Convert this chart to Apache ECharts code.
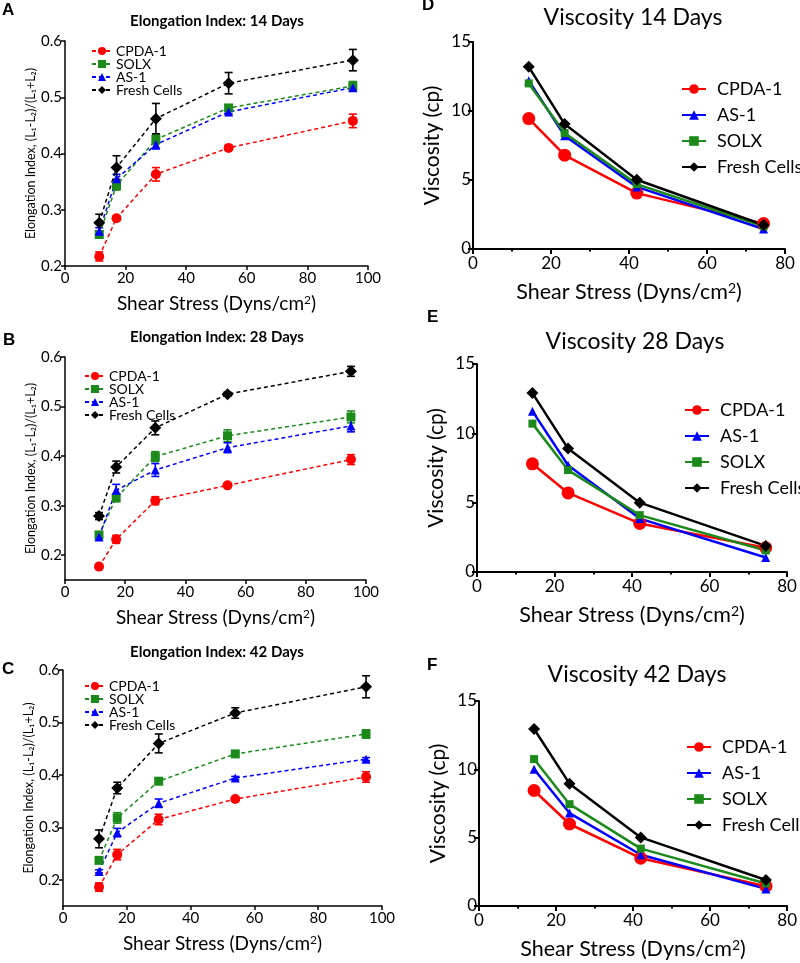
<!DOCTYPE html>
<html><head><meta charset="utf-8">
<script src="https://cdn.jsdelivr.net/npm/echarts@6/dist/echarts.min.js"></script>
<style>html,body{margin:0;padding:0;background:#fff}#c{width:800px;height:963px}</style>
</head><body><div id="c"></div>
<script>
// ---------- data ----------
const xEI = [11.3, 17, 30, 54, 95];
const xVis = [14.3, 23.5, 42, 74.5];
const seriesNamesEI = ['CPDA-1', 'SOLX', 'AS-1', 'Fresh Cells'];
const seriesNamesVis = ['CPDA-1', 'AS-1', 'SOLX', 'Fresh Cells'];

// Panel A (14 days)
const cpdaA = [0.217, 0.285, 0.363, 0.410, 0.458];
const cpdaAErr = [0.008, 0.004, 0.012, 0.004, 0.012];
const solxA = [0.256, 0.343, 0.425, 0.481, 0.520];
const solxAErr = [0.005, 0.008, 0.008, 0.004, 0.008];
const as1A = [0.262, 0.355, 0.416, 0.474, 0.517];
const as1AErr = [0.006, 0.008, 0.008, 0.004, 0.006];
const freshA = [0.277, 0.375, 0.462, 0.525, 0.566];
const freshAErr = [0.015, 0.021, 0.027, 0.019, 0.019];

// Panel B (28 days)
const cpdaB = [0.177, 0.232, 0.310, 0.341, 0.393];
const cpdaBErr = [0.003, 0.008, 0.008, 0.003, 0.010];
const solxB = [0.241, 0.316, 0.399, 0.441, 0.479];
const solxBErr = [0.005, 0.008, 0.010, 0.012, 0.012];
const as1B = [0.237, 0.331, 0.372, 0.417, 0.461];
const as1BErr = [0.004, 0.012, 0.013, 0.010, 0.012];
const freshB = [0.279, 0.378, 0.457, 0.525, 0.571];
const freshBErr = [0.007, 0.012, 0.014, 0.004, 0.010];

// Panel C (42 days)
const cpdaC = [0.186, 0.248, 0.315, 0.354, 0.396];
const cpdaCErr = [0.008, 0.010, 0.010, 0.003, 0.010];
const solxC = [0.237, 0.318, 0.388, 0.440, 0.478];
const solxCErr = [0.004, 0.010, 0.006, 0.004, 0.008];
const as1C = [0.216, 0.290, 0.346, 0.394, 0.430];
const as1CErr = [0.003, 0.008, 0.008, 0.003, 0.003];
const freshC = [0.278, 0.375, 0.460, 0.518, 0.568];
const freshCErr = [0.017, 0.011, 0.018, 0.010, 0.021];

// Panel D (viscosity 14 days)
const cpdaD = [9.45, 6.8, 4.05, 1.84];
const as1D = [12.2, 8.2, 4.5, 1.45];
const solxD = [12.0, 8.4, 4.7, 1.65];
const freshD = [13.2, 9.05, 5.02, 1.74];
// Panel E (viscosity 28 days)
const cpdaE = [7.8, 5.7, 3.5, 1.75];
const as1E = [11.6, 7.7, 3.85, 1.05];
const solxE = [10.7, 7.35, 4.1, 1.55];
const freshE = [12.9, 8.9, 5.0, 1.88];
// Panel F (viscosity 42 days)
const cpdaF = [8.45, 6.0, 3.5, 1.45];
const as1F = [10.0, 6.8, 3.75, 1.25];
const solxF = [10.75, 7.45, 4.2, 1.65];
const freshF = [12.95, 8.95, 5.02, 1.9];

const eiTicks = [0.2, 0.3, 0.4, 0.5, 0.6];
const visTitles = ['Viscosity 14 Days', 'Viscosity 28 Days', 'Viscosity 42 Days'];
const eiTitles = ['Elongation Index: 14 Days', 'Elongation Index: 28 Days', 'Elongation Index: 42 Days'];

// ---------- styles ----------
const FONT = 'Lato';
const COLORS = {'CPDA-1': '#ff0000', 'SOLX': '#1b8a1b', 'AS-1': '#0000ff', 'Fresh Cells': '#000000'};
const SYMBOLS = {'CPDA-1': 'circle', 'SOLX': 'rect', 'AS-1': 'triangle', 'Fresh Cells': 'diamond'};
const SIZE_EI = {'CPDA-1': 10, 'SOLX': 9, 'AS-1': 9, 'Fresh Cells': 12};
const SIZE_VIS = {'CPDA-1': 13, 'SOLX': 8, 'AS-1': 9, 'Fresh Cells': 12};

const gridsEI = [
  {left: 65, top: 41, width: 303, height: 225},
  {left: 65, top: 357, width: 301, height: 223},
  {left: 63, top: 670, width: 319, height: 236}
];
const gridsVis = [
  {left: 473, top: 42, width: 312, height: 207},
  {left: 477, top: 364, width: 310, height: 208},
  {left: 479, top: 701, width: 309, height: 205}
];
const legendPosEI = [{left: 86, top: 39}, {left: 79, top: 364}, {left: 79, top: 674}];
const legendPosVis = [{left: 676, top: 75}, {left: 679, top: 396}, {left: 681, top: 733}];
const titlePosEI = [{x: 217, y: 21}, {x: 217, y: 337}, {x: 217, y: 652}];
const titlePosVis = [{x: 633, y: 18}, {x: 635, y: 342}, {x: 637, y: 675}];
const letters = [
  {t: 'A', x: 2, y: 2}, {t: 'B', x: 3, y: 332}, {t: 'C', x: 2, y: 661},
  {t: 'D', x: 422, y: -3}, {t: 'E', x: 427, y: 309}, {t: 'F', x: 427, y: 657}
];

const eiData = [
  {'CPDA-1': [cpdaA, cpdaAErr], 'SOLX': [solxA, solxAErr], 'AS-1': [as1A, as1AErr], 'Fresh Cells': [freshA, freshAErr]},
  {'CPDA-1': [cpdaB, cpdaBErr], 'SOLX': [solxB, solxBErr], 'AS-1': [as1B, as1BErr], 'Fresh Cells': [freshB, freshBErr]},
  {'CPDA-1': [cpdaC, cpdaCErr], 'SOLX': [solxC, solxCErr], 'AS-1': [as1C, as1CErr], 'Fresh Cells': [freshC, freshCErr]}
];
const visData = [
  {'CPDA-1': cpdaD, 'AS-1': as1D, 'SOLX': solxD, 'Fresh Cells': freshD},
  {'CPDA-1': cpdaE, 'AS-1': as1E, 'SOLX': solxE, 'Fresh Cells': freshE},
  {'CPDA-1': cpdaF, 'AS-1': as1F, 'SOLX': solxF, 'Fresh Cells': freshF}
];

const grid = [], xAxis = [], yAxis = [], series = [], legend = [], graphic = [];

// ---------- Elongation index panels ----------
eiData.forEach((panel, p) => {
  const idx = grid.length;
  grid.push(gridsEI[p]);
  xAxis.push({
    type: 'value', gridIndex: idx, min: 0, max: 100, interval: 20,
    axisLine: {lineStyle: {color: '#000', width: 1.5}},
    axisTick: {show: true, length: 4, lineStyle: {color: '#000', width: 1.5}},
    axisLabel: {color: '#000', fontSize: 15, fontFamily: FONT, margin: 5},
    splitLine: {show: false},
    name: 'Shear Stress (Dyns/cm{sup|2})', nameLocation: 'middle', nameGap: 28,
    nameTextStyle: {color: '#000', fontSize: 19, fontFamily: FONT,
      rich: {sup: {fontSize: 12, fontFamily: FONT, color: '#000', verticalAlign: 'top', lineHeight: 13}}}
  });
  const yA = {
    type: 'value', gridIndex: idx, min: p === 0 ? 0.2 : 0.15, max: 0.6,
    axisLine: {show: true, lineStyle: {color: '#000', width: 1.5}},
    axisTick: {show: true, length: 4, lineStyle: {color: '#000', width: 1.5}},
    axisLabel: {color: '#000', fontSize: 15, fontFamily: FONT, margin: 3,
      formatter: v => (Math.round(v * 10) / 10).toFixed(1)},
    splitLine: {show: false},
    name: 'Elongation Index, (L₁-L₂)/(L₁+L₂)', nameLocation: 'middle', nameGap: 27,
    nameTextStyle: {color: '#000', fontSize: 12.5, fontFamily: FONT}
  };
  if (p === 0) { yA.interval = 0.1; }
  else { yA.axisLabel.customValues = eiTicks; yA.axisTick.customValues = eiTicks; }
  yAxis.push(yA);

  const legendNames = [];
  seriesNamesEI.forEach(name => {
    const [vals, errs] = panel[name];
    const sname = name + '|EI' + p;
    legendNames.push(sname);
    const color = COLORS[name];
    series.push({
      type: 'custom', name: 'err|' + sname, xAxisIndex: idx, yAxisIndex: idx, z: 2,
      data: xEI.map((x, i) => [x, vals[i], errs[i]]),
      renderItem: (params, api) => {
        const x = api.value(0), y = api.value(1), e = api.value(2);
        const t = api.coord([x, y + e]), b = api.coord([x, y - e]);
        const w = 4, st = {stroke: color, lineWidth: 1.6};
        return {type: 'group', children: [
          {type: 'line', shape: {x1: t[0], y1: t[1], x2: b[0], y2: b[1]}, style: st},
          {type: 'line', shape: {x1: t[0] - w, y1: t[1], x2: t[0] + w, y2: t[1]}, style: st},
          {type: 'line', shape: {x1: b[0] - w, y1: b[1], x2: b[0] + w, y2: b[1]}, style: st}
        ]};
      },
      silent: true
    });
    series.push({
      type: 'line', name: sname, xAxisIndex: idx, yAxisIndex: idx, z: 3,
      data: xEI.map((x, i) => [x, vals[i]]),
      symbol: SYMBOLS[name], symbolSize: SIZE_EI[name],
      itemStyle: {color: color},
      lineStyle: {color: color, width: 1.5, type: [4, 3]},
      animation: false
    });
  });
  legend.push({
    data: legendNames, orient: 'vertical', left: legendPosEI[p].left, top: legendPosEI[p].top,
    itemWidth: 20, itemHeight: 10, itemGap: -1, selectedMode: false,
    formatter: n => n.split('|')[0],
    textStyle: {color: '#000', fontSize: 14, lineHeight: 12, fontFamily: FONT, padding: [0, 0, 0, -1]}
  });
  graphic.push({type: 'text', x: titlePosEI[p].x, y: titlePosEI[p].y,
    style: {text: eiTitles[p], fill: '#000', font: 'bold 15px ' + FONT, textAlign: 'center', textVerticalAlign: 'middle'}});
});

// ---------- Viscosity panels ----------
visData.forEach((panel, p) => {
  const idx = grid.length;
  grid.push(gridsVis[p]);
  xAxis.push({
    type: 'value', gridIndex: idx, min: 0, max: 80, interval: 20,
    axisLine: {lineStyle: {color: '#000', width: 2}},
    axisTick: {show: true, length: 5, lineStyle: {color: '#000', width: 2}},
    minorTick: {show: true, splitNumber: 2, length: 2.5, lineStyle: {color: '#000', width: 2}},
    axisLabel: {color: '#000', fontSize: 17, fontFamily: FONT, margin: 6},
    splitLine: {show: false},
    name: 'Shear Stress (Dyns/cm{sup|2})', nameLocation: 'middle', nameGap: 32,
    nameTextStyle: {color: '#000', fontSize: 21.5, fontFamily: FONT,
      rich: {sup: {fontSize: 14, fontFamily: FONT, color: '#000', verticalAlign: 'top', lineHeight: 15}}}
  });
  yAxis.push({
    type: 'value', gridIndex: idx, min: 0, max: 15, interval: 5,
    axisLine: {show: true, lineStyle: {color: '#000', width: 2}},
    axisTick: {show: true, length: 5, lineStyle: {color: '#000', width: 2}},
    axisLabel: {color: '#000', fontSize: 17, fontFamily: FONT, margin: 2},
    splitLine: {show: false},
    name: 'Viscosity (cp)', nameLocation: 'middle', nameGap: 30,
    nameTextStyle: {color: '#000', fontSize: 21, fontFamily: FONT}
  });
  const legendNames = [];
  seriesNamesVis.forEach(name => {
    const vals = panel[name];
    const sname = name + '|V' + p;
    legendNames.push(sname);
    const color = COLORS[name];
    series.push({
      type: 'line', name: sname, xAxisIndex: idx, yAxisIndex: idx,
      data: xVis.map((x, i) => [x, vals[i]]),
      symbol: SYMBOLS[name], symbolSize: SIZE_VIS[name],
      itemStyle: {color: color},
      lineStyle: {color: color, width: 2.5},
      animation: false
    });
  });
  legend.push({
    data: legendNames, orient: 'vertical', left: legendPosVis[p].left, top: legendPosVis[p].top,
    itemWidth: 24, itemHeight: 12, itemGap: 8, selectedMode: false,
    formatter: n => n.split('|')[0],
    textStyle: {color: '#000', fontSize: 18, fontFamily: FONT, padding: [0, 0, 0, 6]}
  });
  graphic.push({type: 'text', x: titlePosVis[p].x, y: titlePosVis[p].y,
    style: {text: visTitles[p], fill: '#000', font: '23px ' + FONT, textAlign: 'center', textVerticalAlign: 'middle'}});
});

letters.forEach(l => graphic.push({type: 'text', x: l.x, y: l.y,
  style: {text: l.t, fill: '#000', font: 'bold 17px Liberation Sans', textAlign: 'left', textVerticalAlign: 'top'}}));

const chart = echarts.init(document.getElementById('c'), null, {renderer: 'canvas'});
chart.setOption({animation: false, backgroundColor: '#fff', grid, xAxis, yAxis, series, legend, graphic});
</script>
</body></html>
